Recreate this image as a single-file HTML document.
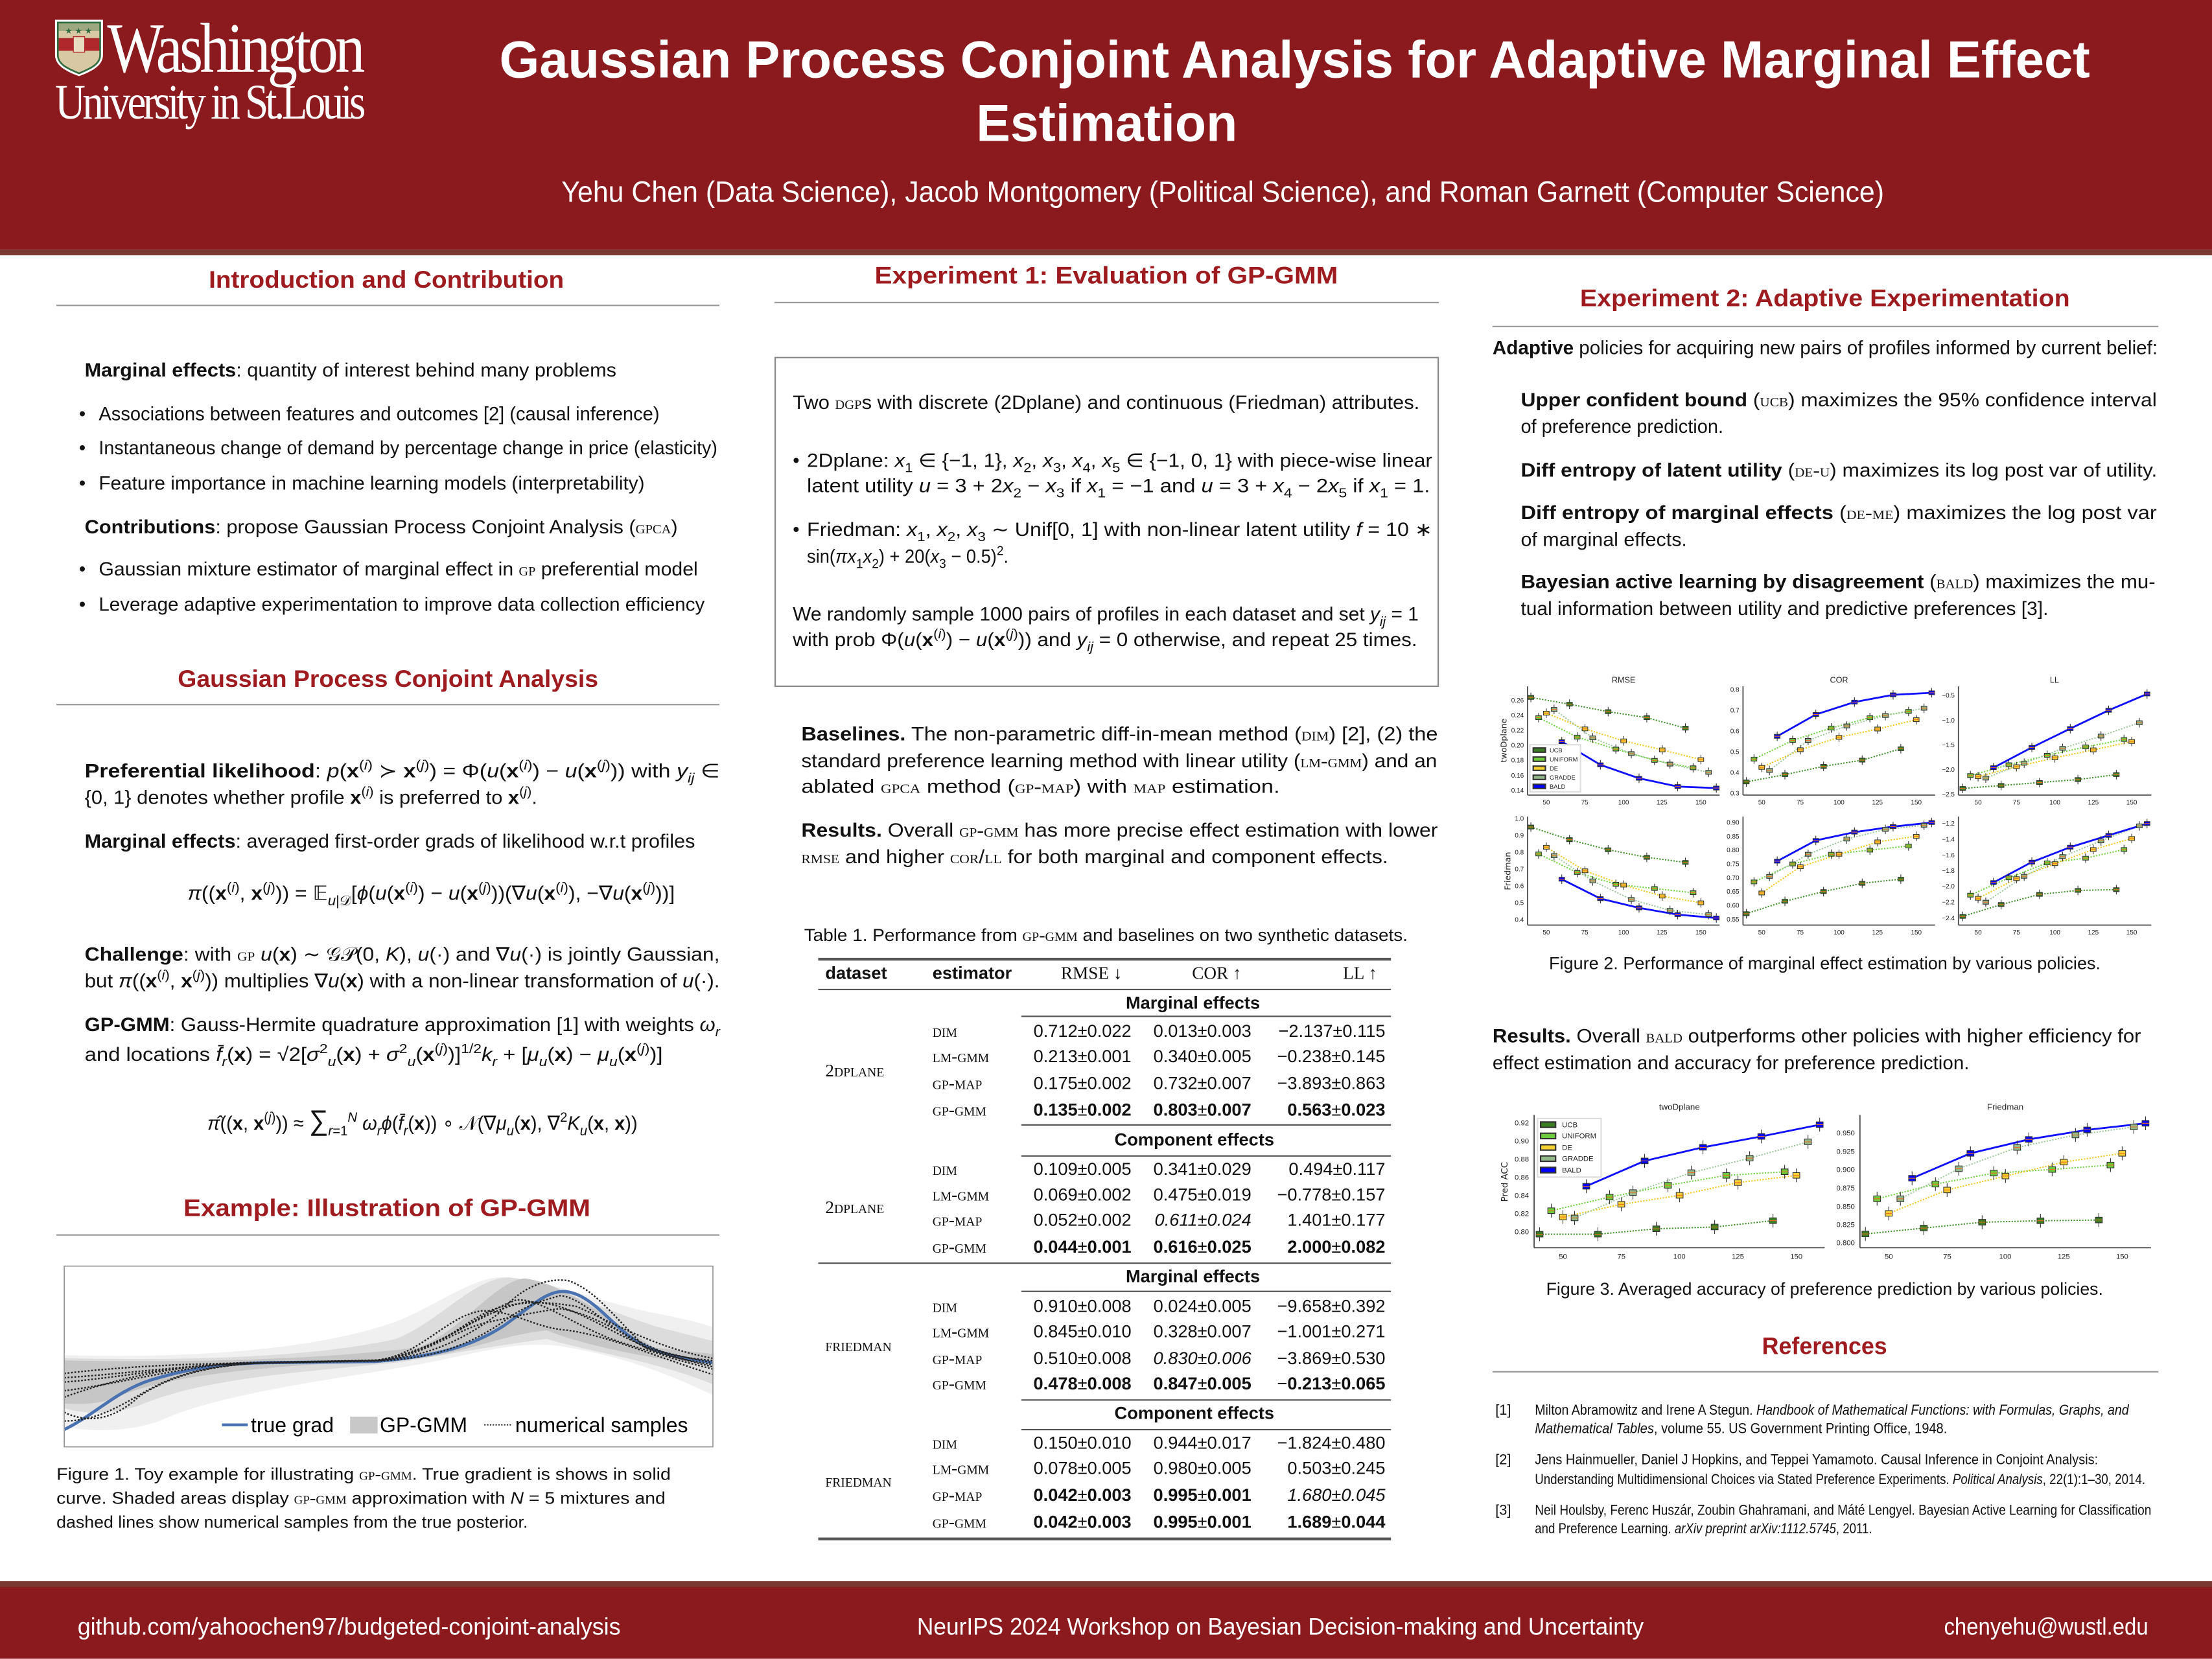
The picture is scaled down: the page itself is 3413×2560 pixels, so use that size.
<!DOCTYPE html>
<html><head><meta charset="utf-8">
<style>
html,body{margin:0;padding:0;background:#fff;}
body{width:3413px;height:2560px;overflow:hidden;position:relative;}
#pg{position:absolute;left:0;top:0;width:1568px;height:1176px;transform:scale(2.17666);transform-origin:0 0;font-family:"Liberation Sans","DejaVu Sans",sans-serif;color:#111;overflow:hidden;}
.t{position:absolute;white-space:nowrap;line-height:1;transform-origin:0 50%;}
.h{color:#9e1b20;font-weight:bold;font-size:17px;}
.rule{position:absolute;height:1px;background:#999;}
.sc{font-variant:small-caps;font-family:"Liberation Serif",serif;}
.it{font-style:italic;font-family:"Liberation Serif",serif;}
.w{color:#fff;}
sup,sub{font-size:70%;line-height:0;}
b{font-weight:bold;}
.c1,.c2,.c3{position:absolute;white-space:nowrap;line-height:1;text-align:right;font-size:12.5px;}
.c1{left:704px;width:98px;}
.c2{left:789px;width:98px;}
.c3{left:874px;width:108px;}
</style></head><body><div id="pg">

<!-- header -->
<div style="position:absolute;left:0;top:0;width:1568px;height:177px;background:#8b1a1e"></div>
<div style="position:absolute;left:0;top:177px;width:1568px;height:4px;background:#7a3833"></div>
<svg style="position:absolute;left:38px;top:13px" width="36" height="42" viewBox="0 0 36 42">
<path d="M1,1 H35 V26 C35,34 26,38 18,41 C10,38 1,34 1,26 Z" fill="#fff"/>
<path d="M3,3 H33 V26 C33,33 25,36 18,39 C11,36 3,33 3,26 Z" fill="#d9c8a4"/>
<rect x="3" y="14" width="30" height="9" fill="#b0282c"/>
<rect x="14" y="13" width="8" height="11" fill="#e8dcc0" stroke="#b0282c" stroke-width="0.6"/>
<path d="M3,3 H33 V9 H3Z" fill="#2d6a3e" opacity="0.35"/>
<text x="8" y="11" font-size="6" fill="#2d6a3e">★</text><text x="15" y="11" font-size="6" fill="#2d6a3e">★</text><text x="22" y="11" font-size="6" fill="#2d6a3e">★</text>
<path d="M3,3 H33 V26 C33,33 25,36 18,39 C11,36 3,33 3,26 Z" fill="none" stroke="#2d6a3e" stroke-width="1.2"/>
</svg>
<div class="t w" style="left:76px;top:9px;font-family:'Liberation Serif',serif;font-size:50px;letter-spacing:-2.5px;width:181px">Washington</div>
<div class="t w" style="left:39px;top:55px;font-family:'Liberation Serif',serif;font-size:35px;letter-spacing:-2.5px;width:218px">University in St.Louis</div>
<div class="t w" style="left:354px;top:24px;font-size:37px;font-weight:bold;width:1127px">Gaussian Process Conjoint Analysis for Adaptive Marginal Effect</div>
<div class="t w" style="left:692px;top:69px;font-size:37px;font-weight:bold;width:185px">Estimation</div>
<div class="t w" style="left:398px;top:126px;font-size:21px;width:938px">Yehu Chen (Data Science), Jacob Montgomery (Political Science), and Roman Garnett (Computer Science)</div>

<!-- footer -->
<div style="position:absolute;left:0;top:1121px;width:1568px;height:55px;background:#8b1a1e"></div>
<div style="position:absolute;left:0;top:1121px;width:1568px;height:4px;background:#7a3833"></div>
<div class="t w" style="left:55px;top:1145px;font-size:17px;width:385px">github.com/yahoochen97/budgeted-conjoint-analysis</div>
<div class="t w" style="left:650px;top:1145px;font-size:17px;width:515px">NeurIPS 2024 Workshop on Bayesian Decision-making and Uncertainty</div>
<div class="t w" style="left:1378px;top:1145px;font-size:17px;width:145px">chenyehu@wustl.edu</div>

<!-- LEFT COLUMN -->
<div class="t h" style="left:148px;top:190px;width:252px">Introduction and Contribution</div>
<div class="rule" style="left:40px;top:216px;width:470px"></div>
<div class="t" style="left:60px;top:256px;font-size:13.5px;width:377px"><b>Marginal effects</b>: quantity of interest behind many problems</div>
<div class="t" style="left:56px;top:287px;font-size:13.5px">•</div>
<div class="t" style="left:70px;top:287px;font-size:13.5px;width:397px">Associations between features and outcomes [2] (causal inference)</div>
<div class="t" style="left:56px;top:311px;font-size:13.5px">•</div>
<div class="t" style="left:70px;top:311px;font-size:13.5px;width:439px">Instantaneous change of demand by percentage change in price (elasticity)</div>
<div class="t" style="left:56px;top:336px;font-size:13.5px">•</div>
<div class="t" style="left:70px;top:336px;font-size:13.5px;width:387px">Feature importance in machine learning models (interpretability)</div>
<div class="t" style="left:60px;top:367px;font-size:13.5px;width:420px"><b>Contributions</b>: propose Gaussian Process Conjoint Analysis (<span class="sc">gpca</span>)</div>
<div class="t" style="left:56px;top:397px;font-size:13.5px">•</div>
<div class="t" style="left:70px;top:397px;font-size:13.5px;width:425px">Gaussian mixture estimator of marginal effect in <span class="sc">gp</span> preferential model</div>
<div class="t" style="left:56px;top:422px;font-size:13.5px">•</div>
<div class="t" style="left:70px;top:422px;font-size:13.5px;width:430px">Leverage adaptive experimentation to improve data collection efficiency</div>

<div class="t h" style="left:126px;top:473px;width:298px">Gaussian Process Conjoint Analysis</div>
<div class="rule" style="left:40px;top:499px;width:470px"></div>
<div class="t" style="left:60px;top:540px;font-size:13.5px;width:450px"><b>Preferential likelihood</b>: <i>p</i>(<b>x</b><sup>(<i>i</i>)</sup> ≻ <b>x</b><sup>(<i>j</i>)</sup>) = Φ(<i>u</i>(<b>x</b><sup>(<i>i</i>)</sup>) − <i>u</i>(<b>x</b><sup>(<i>j</i>)</sup>)) with <i>y<sub>ij</sub></i> ∈</div>
<div class="t" style="left:60px;top:559px;font-size:13.5px;width:321px">{0, 1} denotes whether profile <b>x</b><sup>(<i>i</i>)</sup> is preferred to <b>x</b><sup>(<i>j</i>)</sup>.</div>
<div class="t" style="left:60px;top:590px;font-size:13.5px;width:433px"><b>Marginal effects</b>: averaged first-order grads of likelihood w.r.t profiles</div>
<div class="t" style="left:133px;top:626px;font-size:14px;width:345px"><i>π</i>((<b>x</b><sup>(<i>i</i>)</sup>, <b>x</b><sup>(<i>j</i>)</sup>)) = 𝔼<sub><i>u</i>|𝒟</sub>[<i>ϕ</i>(<i>u</i>(<b>x</b><sup>(<i>i</i>)</sup>) − <i>u</i>(<b>x</b><sup>(<i>j</i>)</sup>))(∇<i>u</i>(<b>x</b><sup>(<i>i</i>)</sup>), −∇<i>u</i>(<b>x</b><sup>(<i>j</i>)</sup>))]</div>
<div class="t" style="left:60px;top:670px;font-size:13.5px;width:450px"><b>Challenge</b>: with <span class="sc">gp</span> <i>u</i>(<b>x</b>) ∼ 𝒢𝒫(0, <i>K</i>), <i>u</i>(·) and ∇<i>u</i>(·) is jointly Gaussian,</div>
<div class="t" style="left:60px;top:689px;font-size:13.5px;width:450px">but <i>π</i>((<b>x</b><sup>(<i>i</i>)</sup>, <b>x</b><sup>(<i>j</i>)</sup>)) multiplies ∇<i>u</i>(<b>x</b>) with a non-linear transformation of <i>u</i>(·).</div>
<div class="t" style="left:60px;top:720px;font-size:13.5px;width:450px"><b>GP-GMM</b>: Gauss-Hermite quadrature approximation [1] with weights <i>ω<sub>r</sub></i></div>
<div class="t" style="left:60px;top:741px;font-size:13.5px;width:410px">and locations <i>f̄<sub>r</sub></i>(<b>x</b>) = √2[<i>σ</i><sup>2</sup><sub><i>u</i></sub>(<b>x</b>) + <i>σ</i><sup>2</sup><sub><i>u</i></sub>(<b>x</b><sup>(<i>j</i>)</sup>)]<sup>1/2</sup><i>k<sub>r</sub></i> + [<i>μ<sub>u</sub></i>(<b>x</b>) − <i>μ<sub>u</sub></i>(<b>x</b><sup>(<i>j</i>)</sup>)]</div>
<div class="t" style="left:147px;top:785px;font-size:14px;width:305px"><i>π̂</i>((<b>x</b>, <b>x</b><sup>(<i>j</i>)</sup>)) ≈ <span style="font-size:20px">∑</span><sub><i>r</i>=1</sub><sup><i>N</i></sup> <i>ω<sub>r</sub>ϕ</i>(<i>f̄<sub>r</sub></i>(<b>x</b>)) ∘ 𝒩(∇<i>μ<sub>u</sub></i>(<b>x</b>), ∇<sup>2</sup><i>K<sub>u</sub></i>(<b>x</b>, <b>x</b>))</div>

<div class="t h" style="left:130px;top:848px;width:288px">Example: Illustration of GP-GMM</div>
<div class="rule" style="left:40px;top:875px;width:470px"></div>

<svg style="position:absolute;left:36.75px;top:891.3px" width="477.8" height="137.8" viewBox="0 0 1568 900" preserveAspectRatio="none">
<defs><clipPath id="c1"><rect x="28" y="43" width="1509" height="837"/></clipPath></defs>
<rect x="28" y="43" width="1509" height="837" fill="#fff"/>
<g clip-path="url(#c1)">
<path d="M28,455 C300,470 600,440 800,300 C900,220 980,90 1050,95 C1150,100 1250,200 1400,260 C1480,290 1537,320 1537,330 L1537,640 C1450,560 1350,470 1200,420 C1100,380 1000,440 900,480 C700,560 400,620 250,760 C180,810 100,810 28,790 Z" fill="#f0f0f0"/>
<path d="M28,470 C300,480 600,470 800,380 C900,300 980,100 1060,95 C1150,110 1250,220 1400,320 L1537,390 L1537,590 C1400,480 1250,440 1150,380 C1000,420 900,460 800,490 C600,530 350,560 200,690 C120,740 60,720 28,700 Z" fill="#dcdcdc"/>
<path d="M28,480 C300,490 600,480 850,420 C950,350 1030,110 1100,100 C1180,120 1280,260 1400,420 L1537,450 L1537,510 C1400,470 1250,420 1150,340 C1050,360 950,450 850,470 C600,500 300,520 150,650 C100,690 60,680 28,680 Z" fill="#c6c6c6"/>
<path d="M28,800 C100,730 150,620 230,570 C330,510 400,495 500,490 L750,485 C900,460 980,410 1050,320 C1120,220 1150,160 1190,160 C1240,165 1280,260 1320,330 C1370,420 1420,460 1537,490" fill="none" stroke="#4a72b0" stroke-width="2.2" vector-effect="non-scaling-stroke"/>
<g fill="none" stroke="#222" stroke-width="1.1" stroke-dasharray="1.2 1.2" vector-effect="non-scaling-stroke">
<path vector-effect="non-scaling-stroke" d="M28,540 C200,500 350,495 500,490 L750,480 C900,440 1000,250 1080,200 C1130,190 1200,300 1300,380 C1400,450 1480,480 1537,500"/>
<path vector-effect="non-scaling-stroke" d="M28,650 C150,560 300,500 450,490 L750,480 C900,450 950,300 1030,240 C1100,200 1160,210 1220,230 C1300,300 1400,420 1537,470"/>
<path vector-effect="non-scaling-stroke" d="M28,720 C80,770 140,760 200,650 C280,540 380,500 500,490 L760,480 C880,460 960,380 1040,260 C1100,120 1160,100 1200,110 C1260,150 1300,260 1380,420 C1430,470 1480,490 1537,520"/>
<path vector-effect="non-scaling-stroke" d="M28,580 C150,560 250,520 400,495 L760,478 C860,450 920,270 1000,250 C1080,250 1120,330 1200,340 C1300,370 1400,460 1537,545"/>
<path vector-effect="non-scaling-stroke" d="M28,760 C100,760 150,700 220,620 C300,530 380,500 500,490 L760,480 C900,440 980,260 1100,210 C1180,200 1250,290 1330,370 C1420,460 1480,470 1537,480"/>
<path vector-effect="non-scaling-stroke" d="M28,620 C150,590 300,510 420,495 L760,482 C880,470 960,420 1050,300 C1110,210 1150,200 1180,180 C1230,180 1300,340 1380,420 C1450,470 1500,490 1537,510"/>
<path vector-effect="non-scaling-stroke" d="M28,560 C180,540 320,500 460,492 L760,480 C870,460 940,330 1020,300 C1090,270 1140,250 1180,240 C1260,260 1340,380 1420,440 C1480,470 1510,480 1537,490"/>
</g>
</g>
<rect x="28" y="43" width="1509" height="837" fill="none" stroke="#999" stroke-width="0.8" vector-effect="non-scaling-stroke"/>
<line x1="395" y1="778" x2="455" y2="778" stroke="#4a72b0" stroke-width="2" vector-effect="non-scaling-stroke"/>
<rect x="693" y="740" width="64" height="78" fill="#c8c8c8"/>
<line x1="1005" y1="778" x2="1070" y2="778" stroke="#222" stroke-width="0.9" stroke-dasharray="1 1" vector-effect="non-scaling-stroke"/>
<g font-family="Liberation Sans, sans-serif" font-size="96" fill="#000">
<text transform="translate(462,812) scale(0.5026,1)">true grad</text>
<text transform="translate(762,812) scale(0.5026,1)">GP-GMM</text>
<text transform="translate(1077,812) scale(0.5026,1)">numerical samples</text>
</g>
</svg>

<div class="t" style="left:40px;top:1039px;font-size:12px;width:436px">Figure 1. Toy example for illustrating <span class="sc">gp-gmm</span>. True gradient is shows in solid</div>
<div class="t" style="left:40px;top:1056px;font-size:12px;width:432px">curve. Shaded areas display <span class="sc">gp-gmm</span> approximation with <i>N</i> = 5 mixtures and</div>
<div class="t" style="left:40px;top:1073px;font-size:12px;width:334px">dashed lines show numerical samples from the true posterior.</div>

<!-- MIDDLE COLUMN -->
<div class="t h" style="left:620px;top:187px;width:328px">Experiment 1: Evaluation of GP-GMM</div>
<div class="rule" style="left:549px;top:214px;width:471px"></div>
<div style="position:absolute;left:549px;top:253px;width:469px;height:232px;border:1px solid #888"></div>
<div class="t" style="left:562px;top:279px;font-size:13.5px;width:444px">Two <span class="sc">dgp</span>s with discrete (2Dplane) and continuous (Friedman) attributes.</div>
<div class="t" style="left:562px;top:320px;font-size:13.5px">•</div>
<div class="t" style="left:572px;top:320px;font-size:13.5px;width:443px">2Dplane: <i>x</i><sub>1</sub> ∈ {−1, 1}, <i>x</i><sub>2</sub>, <i>x</i><sub>3</sub>, <i>x</i><sub>4</sub>, <i>x</i><sub>5</sub> ∈ {−1, 0, 1} with piece-wise linear</div>
<div class="t" style="left:572px;top:338px;font-size:13.5px;width:442px">latent utility <i>u</i> = 3 + 2<i>x</i><sub>2</sub> − <i>x</i><sub>3</sub> if <i>x</i><sub>1</sub> = −1 and <i>u</i> = 3 + <i>x</i><sub>4</sub> − 2<i>x</i><sub>5</sub> if <i>x</i><sub>1</sub> = 1.</div>
<div class="t" style="left:562px;top:369px;font-size:13.5px">•</div>
<div class="t" style="left:572px;top:369px;font-size:13.5px;width:443px">Friedman: <i>x</i><sub>1</sub>, <i>x</i><sub>2</sub>, <i>x</i><sub>3</sub> ∼ Unif[0, 1] with non-linear latent utility <i>f</i> = 10 ∗</div>
<div class="t" style="left:572px;top:388px;font-size:13.5px;width:143px">sin(<i>πx</i><sub>1</sub><i>x</i><sub>2</sub>) + 20(<i>x</i><sub>3</sub> − 0.5)<sup>2</sup>.</div>
<div class="t" style="left:562px;top:429px;font-size:13.5px;width:444px">We randomly sample 1000 pairs of profiles in each dataset and set <i>y<sub>ij</sub></i> = 1</div>
<div class="t" style="left:562px;top:447px;font-size:13.5px;width:443px">with prob Φ(<i>u</i>(<b>x</b><sup>(<i>i</i>)</sup>) − <i>u</i>(<b>x</b><sup>(<i>j</i>)</sup>)) and <i>y<sub>ij</sub></i> = 0 otherwise, and repeat 25 times.</div>

<div class="t" style="left:568px;top:514px;font-size:13.5px;width:451px"><b>Baselines.</b> The non-parametric diff-in-mean method (<span class="sc">dim</span>) [2], (2) the</div>
<div class="t" style="left:568px;top:533px;font-size:13.5px;width:451px">standard preference learning method with linear utility (<span class="sc">lm-gmm</span>) and an</div>
<div class="t" style="left:568px;top:551px;font-size:13.5px;width:339px">ablated <span class="sc">gpca</span> method (<span class="sc">gp-map</span>) with <span class="sc">map</span> estimation.</div>
<div class="t" style="left:568px;top:582px;font-size:13.5px;width:451px"><b>Results.</b> Overall <span class="sc">gp-gmm</span> has more precise effect estimation with lower</div>
<div class="t" style="left:568px;top:601px;font-size:13.5px;width:416px"><span class="sc">rmse</span> and higher <span class="sc">cor</span>/<span class="sc">ll</span> for both marginal and component effects.</div>

<div class="t" style="left:570px;top:657px;font-size:12.5px;width:428px">Table 1. Performance from <span class="sc">gp-gmm</span> and baselines on two synthetic datasets.</div>
<div style="position:absolute;left:580px;top:679px;width:406px;height:1.5px;background:#555"></div>
<div class="t" style="left:585px;top:684px;font-size:12.5px;font-weight:bold">dataset</div>
<div class="t" style="left:661px;top:684px;font-size:12.5px;font-weight:bold">estimator</div>
<div class="t" style="left:752px;top:684px;font-size:12.5px;font-family:'Liberation Serif',serif">RMSE ↓</div>
<div class="t" style="left:845px;top:684px;font-size:12.5px;font-family:'Liberation Serif',serif">COR ↑</div>
<div class="t" style="left:952px;top:684px;font-size:12.5px;font-family:'Liberation Serif',serif">LL ↑</div>
<div style="position:absolute;left:580px;top:701px;width:406px;height:1px;background:#555"></div>
<div style="position:absolute;left:580px;top:1090px;width:406px;height:1.5px;background:#555"></div>

<!-- RIGHT COLUMN -->
<div class="t h" style="left:1120px;top:203px;width:347px">Experiment 2: Adaptive Experimentation</div>
<div class="rule" style="left:1058px;top:231px;width:472px"></div>
<div class="t" style="left:1058px;top:240px;font-size:13.5px;width:471px"><b>Adaptive</b> policies for acquiring new pairs of profiles informed by current belief:</div>
<div class="t" style="left:1078px;top:277px;font-size:13.5px;width:451px"><b>Upper confident bound</b> (<span class="sc">ucb</span>) maximizes the 95% confidence interval</div>
<div class="t" style="left:1078px;top:296px;font-size:13.5px;width:144px">of preference prediction.</div>
<div class="t" style="left:1078px;top:327px;font-size:13.5px;width:451px"><b>Diff entropy of latent utility</b> (<span class="sc">de-u</span>) maximizes its log post var of utility.</div>
<div class="t" style="left:1078px;top:357px;font-size:13.5px;width:451px"><b>Diff entropy of marginal effects</b> (<span class="sc">de-me</span>) maximizes the log post var</div>
<div class="t" style="left:1078px;top:376px;font-size:13.5px;width:118px">of marginal effects.</div>
<div class="t" style="left:1078px;top:406px;font-size:13.5px;width:450px"><b>Bayesian active learning by disagreement</b> (<span class="sc">bald</span>) maximizes the mu-</div>
<div class="t" style="left:1078px;top:425px;font-size:13.5px;width:374px">tual information between utility and predictive preferences [3].</div>

<svg id="fig2" style="position:absolute;left:1047.5px;top:468.6px" width="520.5" height="220.5" viewBox="0 0 1568 1440" preserveAspectRatio="none">
<g font-family="Liberation Sans, sans-serif" fill="#222" font-size="30">
<g text-anchor="middle" font-size="38">
<text transform="translate(310,98) scale(0.461,1)">RMSE</text>
<text transform="translate(770,98) scale(0.461,1)">COR</text>
<text transform="translate(1230,98) scale(0.461,1)">LL</text>
</g>
<text transform="translate(60,365) rotate(-90) scale(1,0.461)" text-anchor="middle" font-size="38" font-family="DejaVu Sans, sans-serif">twoDplane</text>
<text transform="translate(68,970) rotate(-90) scale(1,0.461)" text-anchor="middle" font-size="38" font-family="DejaVu Sans, sans-serif">Friedman</text>
<g text-anchor="end">
<text transform="translate(97,190) scale(0.461,1)">0.26</text><text transform="translate(97,259) scale(0.461,1)">0.24</text><text transform="translate(97,329) scale(0.461,1)">0.22</text><text transform="translate(97,398) scale(0.461,1)">0.20</text><text transform="translate(97,467) scale(0.461,1)">0.18</text><text transform="translate(97,537) scale(0.461,1)">0.16</text><text transform="translate(97,606) scale(0.461,1)">0.14</text>
<text transform="translate(557,140) scale(0.461,1)">0.8</text><text transform="translate(557,236) scale(0.461,1)">0.7</text><text transform="translate(557,332) scale(0.461,1)">0.6</text><text transform="translate(557,428) scale(0.461,1)">0.5</text><text transform="translate(557,524) scale(0.461,1)">0.4</text><text transform="translate(557,620) scale(0.461,1)">0.3</text>
<text transform="translate(1017,167) scale(0.461,1)">−0.5</text><text transform="translate(1017,282) scale(0.461,1)">−1.0</text><text transform="translate(1017,396) scale(0.461,1)">−1.5</text><text transform="translate(1017,511) scale(0.461,1)">−2.0</text><text transform="translate(1017,625) scale(0.461,1)">−2.5</text>
<text transform="translate(97,737) scale(0.461,1)">1.0</text><text transform="translate(97,815) scale(0.461,1)">0.9</text><text transform="translate(97,893) scale(0.461,1)">0.8</text><text transform="translate(97,971) scale(0.461,1)">0.7</text><text transform="translate(97,1049) scale(0.461,1)">0.6</text><text transform="translate(97,1127) scale(0.461,1)">0.5</text><text transform="translate(97,1205) scale(0.461,1)">0.4</text>
<text transform="translate(557,755) scale(0.461,1)">0.90</text><text transform="translate(557,819) scale(0.461,1)">0.85</text><text transform="translate(557,883) scale(0.461,1)">0.80</text><text transform="translate(557,947) scale(0.461,1)">0.75</text><text transform="translate(557,1011) scale(0.461,1)">0.70</text><text transform="translate(557,1075) scale(0.461,1)">0.65</text><text transform="translate(557,1139) scale(0.461,1)">0.60</text><text transform="translate(557,1203) scale(0.461,1)">0.55</text>
<text transform="translate(1017,760) scale(0.461,1)">−1.2</text><text transform="translate(1017,833) scale(0.461,1)">−1.4</text><text transform="translate(1017,906) scale(0.461,1)">−1.6</text><text transform="translate(1017,979) scale(0.461,1)">−1.8</text><text transform="translate(1017,1051) scale(0.461,1)">−2.0</text><text transform="translate(1017,1124) scale(0.461,1)">−2.2</text><text transform="translate(1017,1197) scale(0.461,1)">−2.4</text>
</g>
<g text-anchor="middle">
<text transform="translate(145,662) scale(0.461,1)">50</text><text transform="translate(227,662) scale(0.461,1)">75</text><text transform="translate(310,662) scale(0.461,1)">100</text><text transform="translate(392,662) scale(0.461,1)">125</text><text transform="translate(475,662) scale(0.461,1)">150</text>
<text transform="translate(605,662) scale(0.461,1)">50</text><text transform="translate(687,662) scale(0.461,1)">75</text><text transform="translate(770,662) scale(0.461,1)">100</text><text transform="translate(852,662) scale(0.461,1)">125</text><text transform="translate(935,662) scale(0.461,1)">150</text>
<text transform="translate(1067,662) scale(0.461,1)">50</text><text transform="translate(1149,662) scale(0.461,1)">75</text><text transform="translate(1231,662) scale(0.461,1)">100</text><text transform="translate(1313,662) scale(0.461,1)">125</text><text transform="translate(1395,662) scale(0.461,1)">150</text>
<text transform="translate(145,1264) scale(0.461,1)">50</text><text transform="translate(227,1264) scale(0.461,1)">75</text><text transform="translate(310,1264) scale(0.461,1)">100</text><text transform="translate(392,1264) scale(0.461,1)">125</text><text transform="translate(475,1264) scale(0.461,1)">150</text>
<text transform="translate(605,1264) scale(0.461,1)">50</text><text transform="translate(687,1264) scale(0.461,1)">75</text><text transform="translate(770,1264) scale(0.461,1)">100</text><text transform="translate(852,1264) scale(0.461,1)">125</text><text transform="translate(935,1264) scale(0.461,1)">150</text>
<text transform="translate(1067,1264) scale(0.461,1)">50</text><text transform="translate(1149,1264) scale(0.461,1)">75</text><text transform="translate(1231,1264) scale(0.461,1)">100</text><text transform="translate(1313,1264) scale(0.461,1)">125</text><text transform="translate(1395,1264) scale(0.461,1)">150</text>
</g>
</g>
<g id="f2s"></g>
<g id="f2leg">
<rect x="110" y="385" width="108" height="218" fill="#fff" stroke="#ddd" vector-effect="non-scaling-stroke"/>
<rect x="117" y="400" width="26" height="20" fill="#3a7d23" stroke="#333" vector-effect="non-scaling-stroke"/>
<rect x="117" y="442" width="26" height="20" fill="#6dcc3b" stroke="#333" vector-effect="non-scaling-stroke"/>
<rect x="117" y="484" width="26" height="20" fill="#f5d033" stroke="#333" vector-effect="non-scaling-stroke"/>
<rect x="117" y="526" width="26" height="20" fill="#93b98a" stroke="#333" vector-effect="non-scaling-stroke"/>
<rect x="117" y="568" width="26" height="20" fill="#0000ff" stroke="#333" vector-effect="non-scaling-stroke"/>
<g font-family="Liberation Sans, sans-serif" font-size="28" fill="#222">
<text transform="translate(152,420) scale(0.461,1)">UCB</text>
<text transform="translate(152,462) scale(0.461,1)">UNIFORM</text>
<text transform="translate(152,504) scale(0.461,1)">DE</text>
<text transform="translate(152,546) scale(0.461,1)">GRADDE</text>
<text transform="translate(152,588) scale(0.461,1)">BALD</text>
</g></g>
</svg>
<div class="t" style="left:1098px;top:677px;font-size:12.5px;width:391px">Figure 2. Performance of marginal effect estimation by various policies.</div>

<div class="t" style="left:1058px;top:728px;font-size:13.5px;width:460px"><b>Results.</b> Overall <span class="sc">bald</span> outperforms other policies with higher efficiency for</div>
<div class="t" style="left:1058px;top:747px;font-size:13.5px;width:338px">effect estimation and accuracy for preference prediction.</div>

<svg id="fig3" style="position:absolute;left:1056.7px;top:771.8px" width="477.8" height="137.8" viewBox="0 0 1568 900" preserveAspectRatio="none">
<g font-family="Liberation Sans, sans-serif" fill="#222" font-size="34">
<g text-anchor="middle" font-size="40">
<text transform="translate(438,96) scale(0.5026,1)">twoDplane</text>
<text transform="translate(1196,96) scale(0.5026,1)">Friedman</text>
</g>
<text transform="translate(38,430) rotate(-90) scale(1,0.5026)" text-anchor="middle" font-size="40" font-family="DejaVu Sans, sans-serif">Pred ACC</text>
<g text-anchor="end">
<text transform="translate(88,169) scale(0.5026,1)">0.92</text><text transform="translate(88,253) scale(0.5026,1)">0.90</text><text transform="translate(88,337) scale(0.5026,1)">0.88</text><text transform="translate(88,420) scale(0.5026,1)">0.86</text><text transform="translate(88,504) scale(0.5026,1)">0.84</text><text transform="translate(88,588) scale(0.5026,1)">0.82</text><text transform="translate(88,672) scale(0.5026,1)">0.80</text>
<text transform="translate(846,215) scale(0.5026,1)">0.950</text><text transform="translate(846,300) scale(0.5026,1)">0.925</text><text transform="translate(846,385) scale(0.5026,1)">0.900</text><text transform="translate(846,470) scale(0.5026,1)">0.875</text><text transform="translate(846,555) scale(0.5026,1)">0.850</text><text transform="translate(846,639) scale(0.5026,1)">0.825</text><text transform="translate(846,724) scale(0.5026,1)">0.800</text>
</g>
<g text-anchor="middle">
<text transform="translate(167,786) scale(0.5026,1)">50</text><text transform="translate(303,786) scale(0.5026,1)">75</text><text transform="translate(438,786) scale(0.5026,1)">100</text><text transform="translate(574,786) scale(0.5026,1)">125</text><text transform="translate(710,786) scale(0.5026,1)">150</text>
<text transform="translate(925,786) scale(0.5026,1)">50</text><text transform="translate(1061,786) scale(0.5026,1)">75</text><text transform="translate(1196,786) scale(0.5026,1)">100</text><text transform="translate(1332,786) scale(0.5026,1)">125</text><text transform="translate(1468,786) scale(0.5026,1)">150</text>
</g>
</g>
<g id="f3s"></g>
<g>
<rect x="108" y="137" width="148" height="271" fill="#fff" stroke="#ddd" vector-effect="non-scaling-stroke"/>
<rect x="115" y="153" width="35" height="25" fill="#3a7d23" stroke="#333" vector-effect="non-scaling-stroke"/>
<rect x="115" y="205" width="35" height="25" fill="#6dcc3b" stroke="#333" vector-effect="non-scaling-stroke"/>
<rect x="115" y="258" width="35" height="25" fill="#f5d033" stroke="#333" vector-effect="non-scaling-stroke"/>
<rect x="115" y="310" width="35" height="25" fill="#93b98a" stroke="#333" vector-effect="non-scaling-stroke"/>
<rect x="115" y="363" width="35" height="25" fill="#0000ff" stroke="#333" vector-effect="non-scaling-stroke"/>
<g font-family="Liberation Sans, sans-serif" font-size="34" fill="#222">
<text transform="translate(165,177) scale(0.5026,1)">UCB</text>
<text transform="translate(165,229) scale(0.5026,1)">UNIFORM</text>
<text transform="translate(165,282) scale(0.5026,1)">DE</text>
<text transform="translate(165,334) scale(0.5026,1)">GRADDE</text>
<text transform="translate(165,387) scale(0.5026,1)">BALD</text>
</g></g>
</svg>
<div class="t" style="left:1096px;top:908px;font-size:12.5px;width:395px">Figure 3. Averaged accuracy of preference prediction by various policies.</div>

<div class="t h" style="left:1249px;top:946px;width:89px">References</div>
<div class="rule" style="left:1058px;top:972px;width:472px"></div>
<div class="t" style="left:1060px;top:996px;font-size:10px">[1]</div>
<div class="t" style="left:1088px;top:996px;font-size:10px;width:421px">Milton Abramowitz and Irene A Stegun. <i>Handbook of Mathematical Functions: with Formulas, Graphs, and</i></div>
<div class="t" style="left:1088px;top:1009px;font-size:10px;width:292px"><i>Mathematical Tables</i>, volume 55. US Government Printing Office, 1948.</div>
<div class="t" style="left:1060px;top:1031px;font-size:10px">[2]</div>
<div class="t" style="left:1088px;top:1031px;font-size:10px;width:399px">Jens Hainmueller, Daniel J Hopkins, and Teppei Yamamoto. Causal Inference in Conjoint Analysis:</div>
<div class="t" style="left:1088px;top:1045px;font-size:10px;width:433px">Understanding Multidimensional Choices via Stated Preference Experiments. <i>Political Analysis</i>, 22(1):1–30, 2014.</div>
<div class="t" style="left:1060px;top:1067px;font-size:10px">[3]</div>
<div class="t" style="left:1088px;top:1067px;font-size:10px;width:437px">Neil Houlsby, Ferenc Huszár, Zoubin Ghahramani, and Máté Lengyel. Bayesian Active Learning for Classification</div>
<div class="t" style="left:1088px;top:1080px;font-size:10px;width:239px">and Preference Learning. <i>arXiv preprint arXiv:1112.5745</i>, 2011.</div>

<!-- table body -->
<div class="t" style="left:585px;top:753px;font-size:12.5px;font-family:'Liberation Serif',serif">2<span style="font-variant:small-caps">dplane</span></div>
<div class="t" style="left:585px;top:850px;font-size:12.5px;font-family:'Liberation Serif',serif">2<span style="font-variant:small-caps">dplane</span></div>
<div class="t" style="left:585px;top:948px;font-size:12.5px;font-family:'Liberation Serif',serif"><span style="font-variant:small-caps">friedman</span></div>
<div class="t" style="left:585px;top:1044px;font-size:12.5px;font-family:'Liberation Serif',serif"><span style="font-variant:small-caps">friedman</span></div>

<div class="t" style="left:798px;top:705px;font-size:12.5px;font-weight:bold">Marginal effects</div>
<div style="position:absolute;left:724px;top:720px;width:262px;height:1px;background:#555"></div>
<div style="position:absolute;left:724px;top:797px;width:262px;height:1px;background:#555"></div>
<div class="t" style="left:790px;top:802px;font-size:12.5px;font-weight:bold">Component effects</div>
<div style="position:absolute;left:724px;top:819px;width:262px;height:1px;background:#555"></div>
<div style="position:absolute;left:580px;top:895px;width:406px;height:1px;background:#555"></div>
<div class="t" style="left:798px;top:899px;font-size:12.5px;font-weight:bold">Marginal effects</div>
<div style="position:absolute;left:724px;top:915px;width:262px;height:1px;background:#555"></div>
<div style="position:absolute;left:724px;top:992px;width:262px;height:1px;background:#555"></div>
<div class="t" style="left:790px;top:996px;font-size:12.5px;font-weight:bold">Component effects</div>
<div style="position:absolute;left:724px;top:1013px;width:262px;height:1px;background:#555"></div>

<div class="t sc" style="left:661px;top:725px;font-size:12.5px">dim</div><div class="c1" style="top:725px">0.712±0.022</div><div class="c2" style="top:725px">0.013±0.003</div><div class="c3" style="top:725px">−2.137±0.115</div>
<div class="t sc" style="left:661px;top:743px;font-size:12.5px">lm-gmm</div><div class="c1" style="top:743px">0.213±0.001</div><div class="c2" style="top:743px">0.340±0.005</div><div class="c3" style="top:743px">−0.238±0.145</div>
<div class="t sc" style="left:661px;top:762px;font-size:12.5px">gp-map</div><div class="c1" style="top:762px">0.175±0.002</div><div class="c2" style="top:762px">0.732±0.007</div><div class="c3" style="top:762px">−3.893±0.863</div>
<div class="t sc" style="left:661px;top:781px;font-size:12.5px">gp-gmm</div><div class="c1" style="top:781px"><b>0.135</b>±<b>0.002</b></div><div class="c2" style="top:781px"><b>0.803</b>±<b>0.007</b></div><div class="c3" style="top:781px"><b>0.563</b>±<b>0.023</b></div>

<div class="t sc" style="left:661px;top:823px;font-size:12.5px">dim</div><div class="c1" style="top:823px">0.109±0.005</div><div class="c2" style="top:823px">0.341±0.029</div><div class="c3" style="top:823px">0.494±0.117</div>
<div class="t sc" style="left:661px;top:841px;font-size:12.5px">lm-gmm</div><div class="c1" style="top:841px">0.069±0.002</div><div class="c2" style="top:841px">0.475±0.019</div><div class="c3" style="top:841px">−0.778±0.157</div>
<div class="t sc" style="left:661px;top:859px;font-size:12.5px">gp-map</div><div class="c1" style="top:859px">0.052±0.002</div><div class="c2" style="top:859px"><i>0.611</i>±<i>0.024</i></div><div class="c3" style="top:859px">1.401±0.177</div>
<div class="t sc" style="left:661px;top:878px;font-size:12.5px">gp-gmm</div><div class="c1" style="top:878px"><b>0.044</b>±<b>0.001</b></div><div class="c2" style="top:878px"><b>0.616</b>±<b>0.025</b></div><div class="c3" style="top:878px"><b>2.000</b>±<b>0.082</b></div>

<div class="t sc" style="left:661px;top:920px;font-size:12.5px">dim</div><div class="c1" style="top:920px">0.910±0.008</div><div class="c2" style="top:920px">0.024±0.005</div><div class="c3" style="top:920px">−9.658±0.392</div>
<div class="t sc" style="left:661px;top:938px;font-size:12.5px">lm-gmm</div><div class="c1" style="top:938px">0.845±0.010</div><div class="c2" style="top:938px">0.328±0.007</div><div class="c3" style="top:938px">−1.001±0.271</div>
<div class="t sc" style="left:661px;top:957px;font-size:12.5px">gp-map</div><div class="c1" style="top:957px">0.510±0.008</div><div class="c2" style="top:957px"><i>0.830</i>±<i>0.006</i></div><div class="c3" style="top:957px">−3.869±0.530</div>
<div class="t sc" style="left:661px;top:975px;font-size:12.5px">gp-gmm</div><div class="c1" style="top:975px"><b>0.478</b>±<b>0.008</b></div><div class="c2" style="top:975px"><b>0.847</b>±<b>0.005</b></div><div class="c3" style="top:975px">−<b>0.213</b>±<b>0.065</b></div>

<div class="t sc" style="left:661px;top:1017px;font-size:12.5px">dim</div><div class="c1" style="top:1017px">0.150±0.010</div><div class="c2" style="top:1017px">0.944±0.017</div><div class="c3" style="top:1017px">−1.824±0.480</div>
<div class="t sc" style="left:661px;top:1035px;font-size:12.5px">lm-gmm</div><div class="c1" style="top:1035px">0.078±0.005</div><div class="c2" style="top:1035px">0.980±0.005</div><div class="c3" style="top:1035px">0.503±0.245</div>
<div class="t sc" style="left:661px;top:1054px;font-size:12.5px">gp-map</div><div class="c1" style="top:1054px"><b>0.042</b>±<b>0.003</b></div><div class="c2" style="top:1054px"><b>0.995</b>±<b>0.001</b></div><div class="c3" style="top:1054px"><i>1.680</i>±<i>0.045</i></div>
<div class="t sc" style="left:661px;top:1073px;font-size:12.5px">gp-gmm</div><div class="c1" style="top:1073px"><b>0.042</b>±<b>0.003</b></div><div class="c2" style="top:1073px"><b>0.995</b>±<b>0.001</b></div><div class="c3" style="top:1073px"><b>1.689</b>±<b>0.044</b></div>

</div>
<script>
(function(){
var NS="http://www.w3.org/2000/svg";
var cols={UCB:["#3a7d23","#3f8f2a",0],UNI:["#6dcc3b","#6fd13f",5],DE:["#f5d033","#f2c81a",10],GR:["#93b98a","#9cc79a",15],BALD:["#0000ff","#1010ff",20]};
var order=["UCB","UNI","DE","GR","BALD"];
function add(g,tag,at){var e=document.createElementNS(NS,tag);for(var k in at)e.setAttribute(k,at[k]);e.setAttribute("vector-effect","non-scaling-stroke");g.appendChild(e);return e;}
function panel(g,P,bw,bh,wh){
 var X=function(v){return P.xa[1]+(v-P.xa[0])*(P.xb[1]-P.xa[1])/(P.xb[0]-P.xa[0]);};
 var Y=function(v){return P.ya[1]+(v-P.ya[0])*(P.yb[1]-P.ya[1])/(P.yb[0]-P.ya[0]);};
 var b=P.box;
 add(g,"line",{x1:b[0],y1:b[1],x2:b[0],y2:b[3],stroke:"#444","stroke-width":0.8});
 add(g,"line",{x1:b[0],y1:b[3],x2:b[2],y2:b[3],stroke:"#444","stroke-width":0.8});
 order.forEach(function(k,si){
  var c=cols[k],d=P.d[si],pts=[];
  for(var i=0;i<5;i++)pts.push(X(40+c[2]+25*i).toFixed(1)+","+Y(d[i]).toFixed(1));
  var at={points:pts.join(" "),fill:"none",stroke:c[1],"stroke-width":k=="BALD"?1.3:0.9};
  if(k!="BALD"){at["stroke-dasharray"]="1 1";}
  add(g,"polyline",at);
 });
 order.forEach(function(k,si){
  var c=cols[k],d=P.d[si];
  for(var i=0;i<5;i++){var x=X(40+c[2]+25*i),y=Y(d[i]);
   add(g,"line",{x1:x,y1:y-wh,x2:x,y2:y+wh,stroke:"#333","stroke-width":0.5});
   add(g,"rect",{x:x-bw/2,y:y-bh/2,width:bw,height:bh,fill:c[0],stroke:"#333","stroke-width":0.5});
   add(g,"line",{x1:x-bw/2,y1:y,x2:x+bw/2,y2:y,stroke:"#f07020","stroke-width":0.5});
  }
 });
}
var g2=document.getElementById("f2s");
var c1={xa:[50,145],xb:[150,475]},c2={xa:[50,605],xb:[150,935]},c3={xa:[50,1067],xb:[150,1395]};
function mk(c,box,ya,yb,d){return {xa:c.xa,xb:c.xb,box:box,ya:ya,yb:yb,d:d};}
var P2=[
 mk(c1,[105,115,515,618],[0.26,180],[0.14,596],[[.264,.255,.245,.237,.223],[.237,.211,.195,.180,.170],[.243,.222,.206,.194,.181],[.248,.210,.189,.175,.164],[.205,.174,.156,.145,.143]]),
 mk(c2,[565,115,975,618],[0.8,130],[0.3,610],[[.355,.39,.43,.46,.515],[.465,.555,.615,.665,.695],[.425,.51,.57,.61,.655],[.41,.555,.625,.675,.71],[.575,.68,.74,.775,.785]]),
 mk(c3,[1025,115,1437,618],[-0.5,157],[-2.5,615],[[-2.38,-2.32,-2.26,-2.2,-2.1],[-2.12,-1.9,-1.71,-1.54,-1.39],[-2.14,-1.94,-1.76,-1.6,-1.43],[-2.17,-1.87,-1.57,-1.32,-1.05],[-1.96,-1.55,-1.17,-0.8,-0.47]]),
 mk(c1,[105,718,515,1220],[1.0,727],[0.4,1195],[[.95,.875,.815,.77,.74],[.79,.68,.61,.585,.56],[.83,.69,.605,.54,.50],[.78,.63,.52,.455,.43],[.64,.525,.47,.43,.41]]),
 mk(c2,[565,718,975,1220],[0.9,745],[0.55,1193],[[.57,.615,.65,.68,.695],[.685,.75,.785,.80,.815],[.645,.74,.785,.83,.85],[.705,.785,.84,.875,.89],[.76,.835,.865,.885,.90]]),
 mk(c3,[1025,718,1437,1220],[-1.2,750],[-2.4,1187],[[-2.38,-2.23,-2.1,-2.05,-2.04],[-2.11,-1.89,-1.7,-1.64,-1.53],[-2.15,-1.9,-1.71,-1.53,-1.39],[-2.2,-1.87,-1.62,-1.42,-1.23],[-1.95,-1.69,-1.5,-1.35,-1.2]])
];
P2.forEach(function(P){panel(g2,P,12,18,22);});
var leg=document.getElementById("f2leg");leg.parentNode.appendChild(leg);
var g3=document.getElementById("f3s");
var P3=[
 {xa:[50,167],xb:[150,710],box:[100,120,776,735],ya:[0.92,157],yb:[0.80,660],d:[[.797,.797,.803,.805,.812],[.823,.838,.851,.862,.866],[.816,.830,.840,.854,.862],[.815,.843,.865,.881,.899],[.85,.878,.893,.905,.918]]},
 {xa:[50,925],xb:[150,1468],box:[858,120,1535,735],ya:[0.95,203],yb:[0.80,712],d:[[.812,.820,.828,.830,.831],[.860,.880,.895,.900,.906],[.840,.872,.891,.910,.922],[.860,.901,.930,.947,.958],[.888,.922,.941,.954,.963]]}
];
P3.forEach(function(P){panel(g3,P,16,26,32);});
var s3=document.getElementById("fig3");s3.appendChild(s3.children[s3.children.length-1]);
var els=document.querySelectorAll(".t");
for(var i=0;i<els.length;i++){var el=els[i];var W=parseFloat(el.style.width);if(!W)continue;
 el.style.width="max-content";var w=el.offsetWidth;if(w>0){el.style.transform="scaleX("+(W/w)+")";}}
})();
</script>
</body></html>
